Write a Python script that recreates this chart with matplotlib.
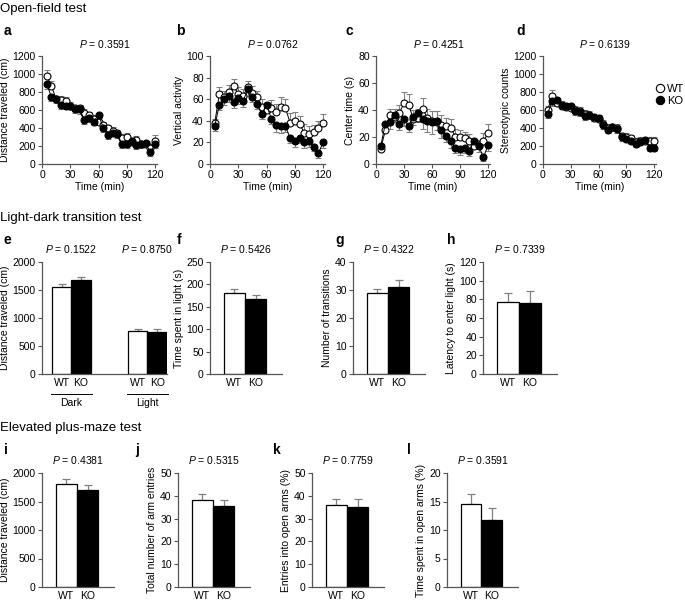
import numpy as np
import matplotlib
matplotlib.use("Agg")
import matplotlib.pyplot as plt
from matplotlib.lines import Line2D

plt.rcParams['font.family'] = ['Liberation Sans', 'DejaVu Sans']
plt.rcParams['mathtext.fontset'] = 'custom'
plt.rcParams['mathtext.it'] = 'Liberation Sans:italic'
plt.rcParams['mathtext.rm'] = 'Liberation Sans'

# open-field, 5 min bins
time = [5, 10, 15, 20, 25, 30, 35, 40, 45, 50, 55, 60,
        65, 70, 75, 80, 85, 90, 95, 100, 105, 110, 115, 120]

dist_wt = [980, 870, 720, 710, 700, 650, 620, 620, 570, 540, 500, 470,
           430, 400, 370, 340, 290, 300, 250, 270, 220, 220, 180, 260]
dist_wt_err = [60, 50, 40, 40, 45, 40, 40, 40, 40, 40, 40, 40,
               40, 35, 40, 40, 40, 40, 40, 40, 35, 35, 40, 60]
dist_ko = [890, 745, 720, 660, 650, 650, 610, 610, 490, 510, 470, 550,
           400, 320, 350, 330, 220, 220, 260, 210, 220, 230, 130, 220]
dist_ko_err = [60, 50, 40, 45, 40, 40, 40, 50, 50, 40, 40, 40,
               40, 40, 40, 40, 40, 40, 35, 40, 40, 40, 40, 40]

vert_wt = [38, 65, 62, 67, 72, 65, 63, 71, 66, 62, 53, 50,
           52, 48, 53, 52, 38, 40, 37, 29, 28, 30, 33, 38]
vert_wt_err = [4, 6, 6, 6, 7, 6, 6, 6, 6, 6, 7, 7,
               7, 8, 9, 8, 9, 8, 7, 8, 7, 6, 7, 8]
vert_ko = [35, 55, 60, 63, 57, 61, 58, 69, 62, 56, 46, 55,
           42, 36, 35, 35, 24, 21, 24, 20, 21, 16, 10, 20]
vert_ko_err = [4, 5, 5, 6, 5, 5, 5, 6, 5, 5, 4, 5,
               5, 6, 6, 5, 5, 5, 5, 5, 5, 4, 4, 5]

center_wt = [11, 25, 36, 35, 38, 45, 44, 33, 34, 41, 34, 32,
             31, 29, 28, 27, 20, 20, 19, 17, 13, 14, 17, 23]
center_wt_err = [3, 4, 5, 6, 6, 8, 8, 7, 7, 8, 7, 7,
                 8, 7, 6, 6, 6, 5, 5, 5, 4, 4, 6, 7]
center_ko = [13, 30, 31, 36, 30, 33, 28, 35, 38, 33, 32, 31,
             32, 25, 21, 17, 12, 11, 12, 10, 17, 13, 5, 14]
center_ko_err = [3, 4, 5, 5, 5, 5, 4, 6, 7, 7, 8, 9,
                 7, 6, 5, 5, 4, 4, 4, 4, 4, 4, 3, 4]

stereo_wt = [600, 760, 680, 650, 630, 620, 600, 590, 560, 540, 510, 500,
             450, 400, 410, 400, 310, 300, 290, 250, 260, 260, 260, 260]
stereo_wt_err = [50, 60, 50, 45, 45, 45, 45, 45, 45, 45, 40, 40,
                 40, 40, 40, 40, 40, 40, 35, 35, 35, 35, 35, 40]
stereo_ko = [560, 700, 710, 660, 640, 650, 590, 580, 530, 550, 520, 510,
             430, 380, 410, 390, 300, 280, 260, 220, 250, 270, 180, 180]
stereo_ko_err = [50, 50, 50, 45, 45, 45, 45, 45, 45, 45, 40, 40,
                 40, 40, 40, 40, 40, 40, 35, 35, 35, 35, 35, 35]

# light-dark (WT, KO)
groups = ['WT', 'KO']
ld_dark = [1550, 1670]
ld_dark_err = [50, 70]
ld_light = [770, 755]
ld_light_err = [40, 50]
ld_time_light = [180, 167]
ld_time_light_err = [10, 10]
ld_transitions = [28.8, 31.0]
ld_transitions_err = [1.5, 2.5]
ld_latency = [77, 76]
ld_latency_err = [10, 13]

# elevated plus maze (WT, KO)
epm_dist = [1800, 1700]
epm_dist_err = [90, 90]
epm_entries = [38, 35.5]
epm_entries_err = [3, 2.7]
epm_open_entries = [36, 35]
epm_open_entries_err = [2.5, 3.5]
epm_open_time = [14.5, 11.8]
epm_open_time_err = [1.8, 2.1]

W, H = 685, 602
SPINE = '#555555'
ERR = '#808080'
FS = 7.5


def rect(left, top, width, bottom):
    # pixel box -> figure fraction
    return [left / W, 1 - bottom / H, width / W, (bottom - top) / H]


def style(ax, ymax, ystep):
    for s in ['top', 'right']:
        ax.spines[s].set_visible(False)
    for s in ['left', 'bottom']:
        ax.spines[s].set_color(SPINE)
        ax.spines[s].set_linewidth(0.9)
    ax.set_ylim(0, ymax)
    ax.set_yticks(np.arange(0, ymax + ystep / 2, ystep))
    ax.tick_params(axis='both', colors=SPINE, labelcolor='black',
                   labelsize=FS, length=3, width=0.8, pad=1.5)


def p_text(ax, x, txt):
    ax.text(x, 1.06, '$P$ = ' + txt, transform=ax.transAxes,
            ha='center', va='bottom', fontsize=FS)


def line_panel(ax, wt, wt_err, ko, ko_err, ymax, ystep, ylabel, p):
    zeros = np.zeros(len(time))
    ax.errorbar(time, wt, yerr=[zeros, wt_err], fmt='o-', color='black',
                mfc='white', mec='black', ms=5, mew=0.8, lw=0.7,
                ecolor=ERR, elinewidth=0.8, capsize=2, capthick=0.8,
                clip_on=False, zorder=3)
    ax.errorbar(time, ko, yerr=[ko_err, zeros], fmt='o-', color='black',
                mfc='black', mec='black', ms=5, mew=0.8, lw=0.7,
                ecolor=ERR, elinewidth=0.8, capsize=2, capthick=0.8,
                clip_on=False, zorder=3)
    style(ax, ymax, ystep)
    ax.set_xlim(0, 122)
    ax.set_xticks([0, 30, 60, 90, 120])
    ax.set_xlabel('Time (min)', fontsize=FS, labelpad=1)
    ax.set_ylabel(ylabel, fontsize=FS, labelpad=2)
    p_text(ax, 0.55, p)


def bar_panel(ax, vals, errs, ymax, ystep, ylabel, p, pos=(0, 1)):
    ax.bar(pos, vals, width=1.0, color=['white', 'black'],
           edgecolor='black', linewidth=0.9, zorder=2)
    ax.errorbar(pos, vals, yerr=[[0] * len(pos), errs], fmt='none',
                ecolor=ERR, elinewidth=0.9, capsize=3, capthick=0.9,
                zorder=1)
    style(ax, ymax, ystep)
    ax.set_ylabel(ylabel, fontsize=FS, labelpad=2)
    if p is not None:
        p_text(ax, 0.5, p)


def label(x, y, txt):
    fig.text(x / W, 1 - y / H, txt, fontsize=10, fontweight='bold',
             ha='left', va='center')


def heading(y, txt):
    fig.text(0.5 / W, 1 - y / H, txt, fontsize=9.5, ha='left', va='center')


fig = plt.figure(figsize=(W / 100, H / 100), dpi=100)

# row 1 - open field
t1, b1 = 56, 164
ax_a = fig.add_axes(rect(42, t1, 115, b1))
line_panel(ax_a, dist_wt, dist_wt_err, dist_ko, dist_ko_err, 1200, 200,
           'Distance traveled (cm)', '0.3591')
ax_b = fig.add_axes(rect(210, t1, 115, b1))
line_panel(ax_b, vert_wt, vert_wt_err, vert_ko, vert_ko_err, 100, 20,
           'Vertical activity', '0.0762')
ax_c = fig.add_axes(rect(376, t1, 114, b1))
line_panel(ax_c, center_wt, center_wt_err, center_ko, center_ko_err, 80, 20,
           'Center time (s)', '0.4251')
ax_d = fig.add_axes(rect(543, t1, 113, b1))
line_panel(ax_d, stereo_wt, stereo_wt_err, stereo_ko, stereo_ko_err, 1200, 200,
           'Stereotypic counts', '0.6139')
handles = [Line2D([], [], ls='none', marker='o', mfc='white', mec='black',
                  ms=6, mew=0.8),
           Line2D([], [], ls='none', marker='o', mfc='black', mec='black',
                  ms=6, mew=0.8)]
ax_d.legend(handles, groups, loc='upper right',
            bbox_to_anchor=(684 / W, 1 - 84 / H), bbox_transform=fig.transFigure,
            frameon=False, fontsize=FS + 0.5, handletextpad=0.2,
            borderaxespad=0, borderpad=0, labelspacing=0.15,
            handlelength=0.8)

heading(9, 'Open-field test')
label(4, 31, 'a')
label(176, 31, 'b')
label(346, 31, 'c')
label(516, 31, 'd')

# row 2 - light-dark
t2, b2 = 262, 374
ax_e = fig.add_axes(rect(42, t2, 125, b2))
e_pos = [0, 1, 3.9, 4.9]
bar_panel(ax_e, ld_dark + ld_light, ld_dark_err + ld_light_err, 2000, 500,
          'Distance traveled (cm)', None, pos=e_pos)
for i, patch in enumerate(ax_e.patches):
    patch.set_facecolor('white' if i % 2 == 0 else 'black')
ax_e.set_xlim(-1.0, 5.4)
ax_e.set_xticks(e_pos)
ax_e.set_xticklabels(groups + groups)
ax_e.tick_params(axis='x', length=0, pad=3)
tr = ax_e.get_xaxis_transform()
for a, b, name in [(0, 1, 'Dark'), (3.9, 4.9, 'Light')]:
    ax_e.plot([a - 0.55, b + 0.55], [-0.18, -0.18], color='black', lw=0.7,
              transform=tr, clip_on=False)
    ax_e.text((a + b) / 2, -0.21, name, transform=tr, ha='center', va='top',
              fontsize=FS)
ax_e.text(0.5, 1.06, '$P$ = 0.1522', transform=tr, ha='center', va='bottom',
          fontsize=FS)
ax_e.text(4.4, 1.06, '$P$ = 0.8750', transform=tr, ha='center', va='bottom',
          fontsize=FS)

t3, b3 = 473, 587
small = [
    ((210, t2, 72, b2), ld_time_light, ld_time_light_err, 250, 50,
     'Time spent in light (s)', '0.5426'),
    ((353, t2, 72, b2), ld_transitions, ld_transitions_err, 40, 10,
     'Number of transitions', '0.4322'),
    ((483, t2, 74, b2), ld_latency, ld_latency_err, 120, 20,
     'Latency to enter light (s)', '0.7339'),
    ((42, t3, 72, b3), epm_dist, epm_dist_err, 2000, 500,
     'Distance traveled (cm)', '0.4381'),
    ((178, t3, 72, b3), epm_entries, epm_entries_err, 50, 10,
     'Total number of arm entries', '0.5315'),
    ((312, t3, 72, b3), epm_open_entries, epm_open_entries_err, 50, 10,
     'Entries into open arms (%)', '0.7759'),
    ((447, t3, 71, b3), epm_open_time, epm_open_time_err, 20, 5,
     'Time spent in open arms (%)', '0.3591'),
]

for box, vals, errs, ymax, ystep, ylab, p in small:
    ax = fig.add_axes(rect(*box))
    bar_panel(ax, vals, errs, ymax, ystep, ylab, p)
    ax.set_xlim(-1.15, 2.25)
    ax.set_xticks([0, 1])
    ax.set_xticklabels(groups)
    ax.tick_params(axis='x', length=0, pad=3)

heading(218, 'Light-dark transition test')
label(4, 240, 'e')
label(177, 240, 'f')
label(335, 240, 'g')
label(447, 240, 'h')

heading(428, 'Elevated plus-maze test')
label(4, 450, 'i')
label(135, 450, 'j')
label(273, 450, 'k')
label(407, 450, 'l')

fig.savefig('out.png', dpi=100)
